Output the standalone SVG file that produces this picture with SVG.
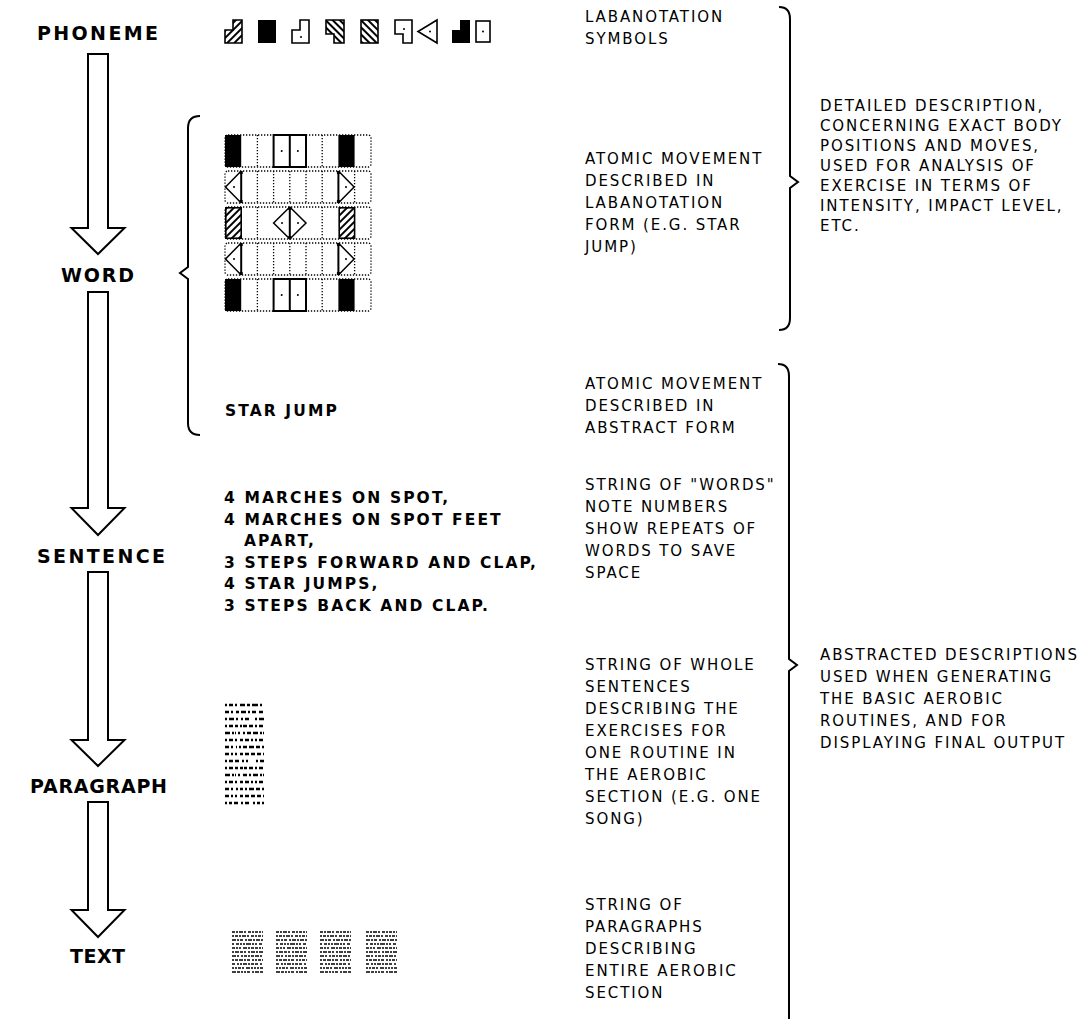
<svg xmlns="http://www.w3.org/2000/svg" xmlns:xlink="http://www.w3.org/1999/xlink" width="1083" height="1019" viewBox="0 0 1083 1019">
<style>
.lbl{font-family:"DejaVu Sans",sans-serif;font-weight:bold;font-size:19px;fill:#000}
.bt{font-family:"DejaVu Sans",sans-serif;font-weight:bold;font-size:15.5px;letter-spacing:2.1px;fill:#000}
.t{font-family:"DejaVu Sans",sans-serif;font-size:15px;letter-spacing:1.9px;fill:#000}
.arrow{fill:#fff;stroke:#000;stroke-width:2;stroke-linejoin:miter}
.brace{fill:none;stroke:#000;stroke-width:2}
.dot{fill:none;stroke:#000;stroke-width:1.3;stroke-dasharray:1.3 1.7}
.sol{stroke:#000;stroke-width:2;fill:#fff}
.blk{fill:#000}
.tx{stroke:#000;stroke-width:2.4}
.tx2{stroke:#000;stroke-width:1.6}
</style>
<defs>
<pattern id="hatchA" patternUnits="userSpaceOnUse" width="5" height="5" patternTransform="rotate(45)"><rect width="5" height="5" fill="#fff"/><rect width="2" height="5" fill="#000"/></pattern>
<pattern id="hatchB" patternUnits="userSpaceOnUse" width="5" height="5" patternTransform="rotate(-45)"><rect width="5" height="5" fill="#fff"/><rect width="2" height="5" fill="#000"/></pattern>
<g id="rowA">
<rect class="dot" x="225" y="0" width="146" height="32" rx="3"/>
<line class="dot" x1="257.4" y1="0" x2="257.4" y2="32"/>
<line class="dot" x1="322.2" y1="0" x2="322.2" y2="32"/>
<rect class="blk" x="225" y="0" width="16.2" height="32"/>
<rect class="blk" x="338.4" y="0" width="16.2" height="32"/>
<rect class="sol" x="273.6" y="0" width="32.4" height="32"/>
<line class="sol" x1="289.8" y1="0" x2="289.8" y2="32"/>
<circle class="blk" cx="281.7" cy="16" r="1"/>
<circle class="blk" cx="297.9" cy="16" r="1"/>
</g>
<g id="rowB">
<rect class="dot" x="225" y="0" width="146" height="32" rx="3"/>
<line class="dot" x1="257.4" y1="0" x2="257.4" y2="32"/>
<line class="dot" x1="273.6" y1="0" x2="273.6" y2="32"/>
<line class="dot" x1="289.8" y1="0" x2="289.8" y2="32"/>
<line class="dot" x1="306" y1="0" x2="306" y2="32"/>
<line class="dot" x1="322.2" y1="0" x2="322.2" y2="32"/>
<line class="dot" x1="354.6" y1="0" x2="354.6" y2="32"/>
<path d="M241.2,0 L225.5,16 L241.2,32" fill="#fff" stroke="#000" stroke-width="1.5"/>
<line x1="241.2" y1="0" x2="241.2" y2="32" stroke="#000" stroke-width="2"/>
<rect class="blk" x="239.7" y="0" width="3" height="3"/>
<rect class="blk" x="239.7" y="29" width="3" height="3"/>
<path d="M338.4,0 L354.1,16 L338.4,32" fill="#fff" stroke="#000" stroke-width="1.5"/>
<line x1="338.4" y1="0" x2="338.4" y2="32" stroke="#000" stroke-width="2"/>
<rect class="blk" x="336.9" y="0" width="3" height="3"/>
<rect class="blk" x="336.9" y="29" width="3" height="3"/>
<circle class="blk" cx="234" cy="16" r="1"/>
<circle class="blk" cx="346" cy="16" r="1"/>
</g>
<g id="rowC">
<rect class="dot" x="225" y="0" width="146" height="32" rx="3"/>
<line class="dot" x1="257.4" y1="0" x2="257.4" y2="32"/>
<line class="dot" x1="322.2" y1="0" x2="322.2" y2="32"/>
<rect x="225.8" y="0.8" width="15.4" height="30.4" fill="url(#hatchA)" stroke="#000" stroke-width="1.6"/>
<rect x="339.2" y="0.8" width="15.4" height="30.4" fill="url(#hatchA)" stroke="#000" stroke-width="1.6"/>
<polygon points="273.6,16 289.8,0 306,16 289.8,32" fill="#fff" stroke="#000" stroke-width="1.5"/>
<line x1="289.8" y1="0" x2="289.8" y2="32" stroke="#000" stroke-width="2"/>
<rect class="blk" x="288.3" y="0" width="3" height="3"/>
<rect class="blk" x="288.3" y="29" width="3" height="3"/>
<circle class="blk" cx="282" cy="16" r="1"/>
<circle class="blk" cx="298" cy="16" r="1"/>
</g>
</defs>
<rect width="1083" height="1019" fill="#fff"/>

<g id="connectors">
<polygon class="arrow" points="88,54 108,54 108,228 124.5,228 98,254 71.5,228 88,228"/>
<polygon class="arrow" points="88,292 108,292 108,508 124.5,508 98,535 71.5,508 88,508"/>
<polygon class="arrow" points="88,572 108,572 108,740 124.5,740 98,766 71.5,740 88,740"/>
<polygon class="arrow" points="88,802 108,802 108,910 124.5,910 98,937 71.5,910 88,910"/>
</g>

<g id="braces">
<path class="brace" d="M200,116 Q188,116 188,128 L188,267 L180,273 L188,279 L188,423 Q188,435 200,435"/>
<path class="brace" d="M779,7 Q790,7 790,19 L790,176 L798,182 L790,188 L790,318 Q790,330 779,330"/>
<path class="brace" d="M778,364 Q789,364 789,376 L789,659 L797,665 L789,671 L789,1019"/>
</g>

<g id="phoneme"><text class="lbl" x="37" y="40" textLength="121" lengthAdjust="spacing">PHONEME</text></g>
<g id="word"><text class="lbl" x="61" y="282" textLength="73" lengthAdjust="spacing">WORD</text></g>
<g id="sentence"><text class="lbl" x="37" y="563" textLength="128" lengthAdjust="spacing">SENTENCE</text></g>
<g id="paragraph"><text class="lbl" x="30" y="793" textLength="137" lengthAdjust="spacing">PARAGRAPH</text></g>
<g id="text"><text class="lbl" x="70" y="963" textLength="55" lengthAdjust="spacing">TEXT</text></g>

<g id="symbols">
<path d="M233,20 L242,20 L242,43 L225,43 L225,30 L233,30 Z" fill="url(#hatchA)" stroke="#000" stroke-width="1.6"/>
<rect class="blk" x="258" y="20" width="18" height="23"/>
<path d="M300,20 L309,20 L309,43 L292,43 L292,30 L300,30 Z" fill="#fff" stroke="#000" stroke-width="1.6"/>
<circle class="blk" cx="301" cy="37" r="1"/>
<path d="M326,20 L344,20 L344,43 L334,43 L334,34 L326,34 Z" fill="url(#hatchB)" stroke="#000" stroke-width="1.6"/>
<rect x="361" y="20" width="17" height="23" fill="url(#hatchB)" stroke="#000" stroke-width="1.6"/>
<path d="M395,20 L412,20 L412,43 L403,43 L403,34 L395,34 Z" fill="#fff" stroke="#000" stroke-width="1.6"/>
<circle class="blk" cx="404" cy="29" r="1"/>
<polygon points="437,20 437,43 418,31.5" fill="#fff" stroke="#000" stroke-width="1.6"/>
<circle class="blk" cx="430" cy="31.5" r="1"/>
<path d="M460,20 L470,20 L470,43 L452,43 L452,30 L460,30 Z" fill="#000"/>
<rect x="476" y="21" width="14" height="21" fill="#fff" stroke="#000" stroke-width="1.6"/>
<circle class="blk" cx="483" cy="31.5" r="1"/>
</g>

<g id="labanotation-grid">
<use xlink:href="#rowA" transform="translate(0,135)"/>
<use xlink:href="#rowB" transform="translate(0,171)"/>
<use xlink:href="#rowC" transform="translate(0,207)"/>
<use xlink:href="#rowB" transform="translate(0,243)"/>
<use xlink:href="#rowA" transform="translate(0,279)"/>
</g>

<g id="star-jump"><text class="bt" x="225" y="416">STAR JUMP</text></g>

<g id="sentence-text">
<text class="bt" x="224" y="503">4 MARCHES ON SPOT,</text>
<text class="bt" x="224" y="525">4 MARCHES ON SPOT FEET</text>
<text class="bt" x="244" y="546">APART,</text>
<text class="bt" x="224" y="568">3 STEPS FORWARD AND CLAP,</text>
<text class="bt" x="224" y="589">4 STAR JUMPS,</text>
<text class="bt" x="224" y="611">3 STEPS BACK AND CLAP.</text>
</g>

<g id="paragraph-texture">
<line class="tx" x1="225" y1="705" x2="264" y2="705" stroke-dasharray="2 2 4 2 2 3 5 2 3 2 6 2"/>
<line class="tx" x1="225" y1="712" x2="264" y2="712" stroke-dasharray="4 2 2 3 3 2 5 2 2 2 4 3"/>
<line class="tx" x1="225" y1="719" x2="264" y2="719" stroke-dasharray="2 2 5 2 2 3 2 2 4 6"/>
<line class="tx" x1="225" y1="726" x2="264" y2="726" stroke-dasharray="2 2 4 2 3 2 2 1 4 2 4 2"/>
<line class="tx" x1="225" y1="733" x2="264" y2="733" stroke-dasharray="5 2 2 1 1 2 2 3 2 2 4 2"/>
<line class="tx" x1="225" y1="740" x2="264" y2="740" stroke-dasharray="2 2 4 2 2 3 3 2 4 2 2 2"/>
<line class="tx" x1="225" y1="747" x2="264" y2="747" stroke-dasharray="4 2 2 3 1 2 2 2 4 2 5 2"/>
<line class="tx" x1="225" y1="754" x2="264" y2="754" stroke-dasharray="4 2 2 2 2 3 3 2 4 2 4 2"/>
<line class="tx" x1="225" y1="761" x2="264" y2="761" stroke-dasharray="2 2 4 2 4 3 2 2 2 8"/>
<line class="tx" x1="225" y1="768" x2="264" y2="768" stroke-dasharray="2 2 4 2 3 2 3 1 3 2 4 2"/>
<line class="tx" x1="225" y1="775" x2="264" y2="775" stroke-dasharray="5 2 2 1 1 2 2 3 4 2 2 2"/>
<line class="tx" x1="225" y1="782" x2="264" y2="782" stroke-dasharray="2 2 4 2 2 3 3 2 4 2 2 2"/>
<line class="tx" x1="225" y1="789" x2="264" y2="789" stroke-dasharray="4 2 2 3 2 2 3 2 2 2 5 2"/>
<line class="tx" x1="225" y1="796" x2="264" y2="796" stroke-dasharray="4 2 2 2 2 3 3 2 4 2 4 2"/>
<line class="tx" x1="225" y1="803" x2="264" y2="803" stroke-dasharray="2 2 3 2 4 3 2 2 4 4"/>
</g>

<g id="text-texture">
<g id="tb1">
<line class="tx2" x1="232" y1="932" x2="263" y2="932" stroke-dasharray="3 1 2 1 4 1 2 2 3 1 2 1"/>
<line class="tx2" x1="232" y1="936" x2="263" y2="936" stroke-dasharray="2 1 3 1 2 1 4 1 2 2 3 1"/>
<line class="tx2" x1="232" y1="940" x2="263" y2="940" stroke-dasharray="4 1 2 1 3 2 2 1 4 1 2 1"/>
<line class="tx2" x1="232" y1="944" x2="263" y2="944" stroke-dasharray="2 2 3 1 2 1 2 1 5 1 2 1"/>
<line class="tx2" x1="232" y1="948" x2="263" y2="948" stroke-dasharray="3 1 2 1 2 2 4 1 2 1 3 1"/>
<line class="tx2" x1="232" y1="952" x2="263" y2="952" stroke-dasharray="2 1 4 1 3 1 2 2 2 1 4 1"/>
<line class="tx2" x1="232" y1="956" x2="263" y2="956" stroke-dasharray="4 1 2 2 2 1 3 1 2 1 3 1"/>
<line class="tx2" x1="232" y1="960" x2="263" y2="960" stroke-dasharray="2 1 3 1 4 1 2 1 3 2 2 1"/>
<line class="tx2" x1="232" y1="964" x2="263" y2="964" stroke-dasharray="3 2 2 1 2 1 4 1 2 1 3 1"/>
<line class="tx2" x1="232" y1="968" x2="263" y2="968" stroke-dasharray="2 1 2 1 3 1 2 2 4 1 2 1"/>
<line class="tx2" x1="232" y1="972" x2="263" y2="972" stroke-dasharray="4 1 3 1 2 1 2 1 3 2 2 1"/>
</g>
<use xlink:href="#tb1" transform="translate(44,0)"/>
<use xlink:href="#tb1" transform="translate(88,0)"/>
<use xlink:href="#tb1" transform="translate(134,0)"/>
</g>

<g id="desc-symbols">
<text class="t" x="585" y="22">LABANOTATION</text>
<text class="t" x="585" y="44">SYMBOLS</text>
</g>
<g id="desc-word-laban">
<text class="t" x="585" y="164">ATOMIC MOVEMENT</text>
<text class="t" x="585" y="186">DESCRIBED IN</text>
<text class="t" x="585" y="208">LABANOTATION</text>
<text class="t" x="585" y="230">FORM (E.G. STAR</text>
<text class="t" x="585" y="252">JUMP)</text>
</g>
<g id="desc-word-abstract">
<text class="t" x="585" y="389">ATOMIC MOVEMENT</text>
<text class="t" x="585" y="411">DESCRIBED IN</text>
<text class="t" x="585" y="433">ABSTRACT FORM</text>
</g>
<g id="desc-sentence">
<text class="t" x="585" y="490">STRING OF "WORDS"</text>
<text class="t" x="585" y="512">NOTE NUMBERS</text>
<text class="t" x="585" y="534">SHOW REPEATS OF</text>
<text class="t" x="585" y="556">WORDS TO SAVE</text>
<text class="t" x="585" y="578">SPACE</text>
</g>
<g id="desc-paragraph">
<text class="t" x="585" y="670">STRING OF WHOLE</text>
<text class="t" x="585" y="692">SENTENCES</text>
<text class="t" x="585" y="714">DESCRIBING THE</text>
<text class="t" x="585" y="736">EXERCISES FOR</text>
<text class="t" x="585" y="758">ONE ROUTINE IN</text>
<text class="t" x="585" y="780">THE AEROBIC</text>
<text class="t" x="585" y="802">SECTION (E.G. ONE</text>
<text class="t" x="585" y="824">SONG)</text>
</g>
<g id="desc-text">
<text class="t" x="585" y="910">STRING OF</text>
<text class="t" x="585" y="932">PARAGRAPHS</text>
<text class="t" x="585" y="954">DESCRIBING</text>
<text class="t" x="585" y="976">ENTIRE AEROBIC</text>
<text class="t" x="585" y="998">SECTION</text>
</g>
<g id="desc-detailed">
<text class="t" x="820" y="111">DETAILED DESCRIPTION,</text>
<text class="t" x="820" y="131">CONCERNING EXACT BODY</text>
<text class="t" x="820" y="151">POSITIONS AND MOVES,</text>
<text class="t" x="820" y="171">USED FOR ANALYSIS OF</text>
<text class="t" x="820" y="191">EXERCISE IN TERMS OF</text>
<text class="t" x="820" y="211">INTENSITY, IMPACT LEVEL,</text>
<text class="t" x="820" y="231">ETC.</text>
</g>
<g id="desc-abstracted">
<text class="t" x="820" y="660">ABSTRACTED DESCRIPTIONS</text>
<text class="t" x="820" y="682">USED WHEN GENERATING</text>
<text class="t" x="820" y="704">THE BASIC AEROBIC</text>
<text class="t" x="820" y="726">ROUTINES, AND FOR</text>
<text class="t" x="820" y="748">DISPLAYING FINAL OUTPUT</text>
</g>
</svg>
